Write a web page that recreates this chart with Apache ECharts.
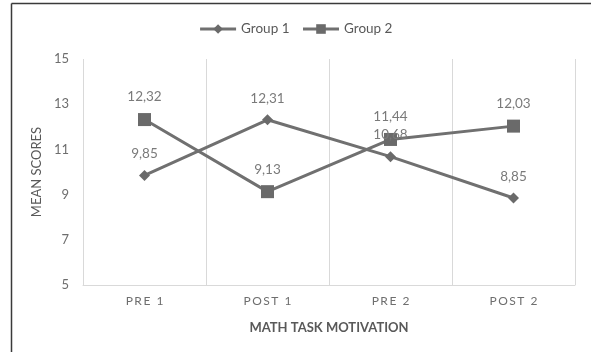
<!DOCTYPE html>
<html>
<head>
<meta charset="utf-8">
<script src="https://cdn.jsdelivr.net/npm/echarts@6/dist/echarts.min.js"></script>
<style>
  html, body { margin: 0; padding: 0; background: #fff; }
  #chart { width: 591px; height: 352px; }
</style>
</head>
<body>
<div id="chart"></div>
<script>
// Phases of the study
const categories = ['PRE 1', 'POST 1', 'PRE 2', 'POST 2'];
// Mean scores per group
const group1 = [9.85, 12.31, 10.68, 8.85];
const group2 = [12.32, 9.13, 11.44, 12.03];
// Y axis range
const yMin = 5, yMax = 15, yStep = 2;

const FONT = 'Lato';
const lineColor = '#707070';
const labelColor = '#7a7a7a';

const chart = echarts.init(document.getElementById('chart'), null, { renderer: 'canvas' });

const comma = v => v.toFixed(2).replace('.', ',');
const spaced = s => s.split('').join('\u2009');

function seriesFor(name, data, symbol, size) {
  return {
    name: name,
    type: 'line',
    data: data,
    symbol: symbol,
    symbolSize: size,
    lineStyle: { color: lineColor, width: 3 },
    itemStyle: { color: '#6a6a6a' },
    label: {
      show: true,
      position: 'top',
      distance: 9,
      color: labelColor,
      fontFamily: FONT,
      fontSize: 13.5,
      formatter: p => comma(p.value)
    },
    emphasis: { disabled: true },
    animation: false
  };
}

chart.setOption({
  animation: false,
  textStyle: { fontFamily: FONT },
  graphic: [
    { type: 'line', shape: { x1: 11.5, y1: 3.5, x2: 591, y2: 3.5 }, style: { stroke: '#3a3a3a', lineWidth: 1.5 } },
    { type: 'line', shape: { x1: 11.5, y1: 3.5, x2: 11.5, y2: 352 }, style: { stroke: '#3a3a3a', lineWidth: 1.5 } }
  ],
  legend: {
    top: 17,
    left: 'center',
    itemWidth: 36,
    itemHeight: 12,
    itemGap: 12,
    lineStyle: { width: 3 },
    textStyle: { color: '#595959', fontSize: 13.5, fontFamily: FONT },
    data: ['Group 1', 'Group 2']
  },
  grid: { left: 83, right: 16, top: 59, bottom: 67, containLabel: false },
  xAxis: {
    type: 'category',
    data: categories,
    boundaryGap: true,
    name: 'MATH TASK MOTIVATION',
    nameLocation: 'middle',
    nameGap: 36,
    nameTextStyle: { color: '#595959', fontSize: 13, fontWeight: 'bold', fontFamily: FONT },
    axisLine: { show: true, lineStyle: { color: '#d9d9d9', width: 1 } },
    axisTick: { show: false },
    splitLine: { show: true, lineStyle: { color: '#d9d9d9', width: 1 } },
    axisLabel: { color: '#6e6e6e', fontSize: 12, margin: 10, fontFamily: FONT, formatter: spaced }
  },
  yAxis: {
    type: 'value',
    min: yMin,
    max: yMax,
    interval: yStep,
    name: 'MEAN SCORES',
    nameLocation: 'middle',
    nameGap: 38,
    nameRotate: 90,
    nameTextStyle: { color: '#595959', fontSize: 13, fontFamily: FONT },
    axisLine: { show: false },
    axisTick: { show: false },
    splitLine: { show: false },
    axisLabel: { color: '#6e6e6e', fontSize: 13, margin: 14, fontFamily: FONT }
  },
  series: [
    seriesFor('Group 1', group1, 'diamond', 11),
    seriesFor('Group 2', group2, 'rect', 13)
  ]
});
</script>
</body>
</html>
